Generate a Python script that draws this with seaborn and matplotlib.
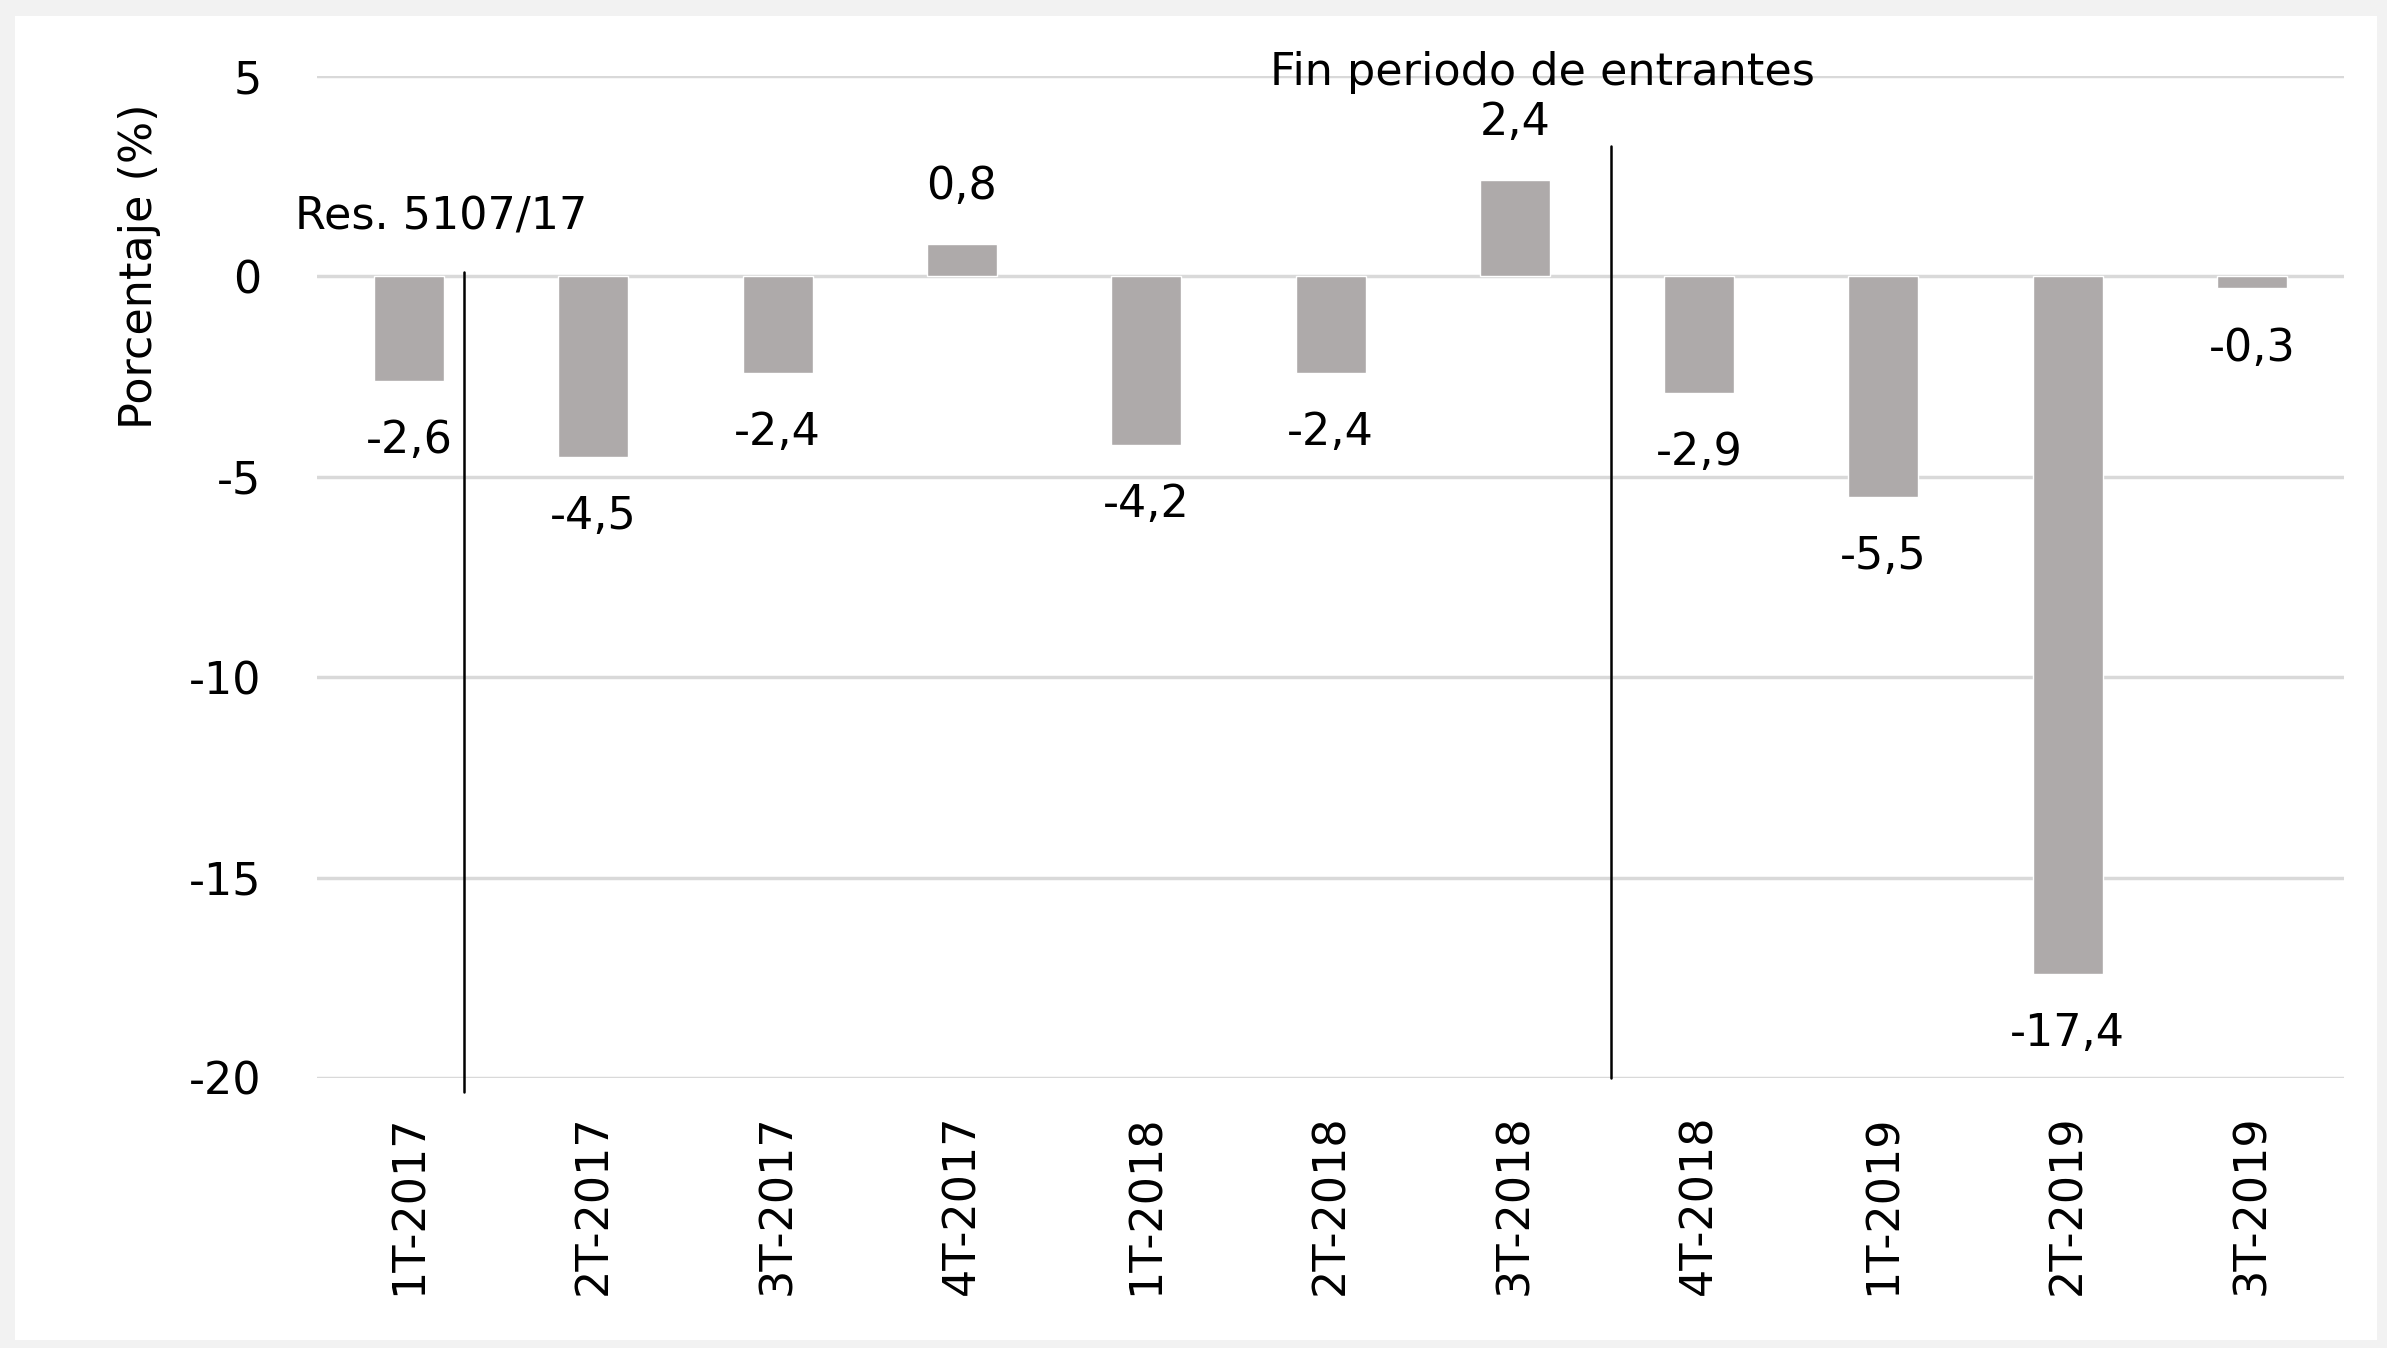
import matplotlib
matplotlib.use("Agg")
import matplotlib.pyplot as plt
import seaborn as sns
import pandas as pd
from matplotlib.patches import Rectangle

# Data
trimestres = ["1T-2017", "2T-2017", "3T-2017", "4T-2017", "1T-2018", "2T-2018",
              "3T-2018", "4T-2018", "1T-2019", "2T-2019", "3T-2019"]
variacion = [-2.6, -4.5, -2.4, 0.8, -4.2, -2.4, 2.4, -2.9, -5.5, -17.4, -0.3]
y_ticks = [5, 0, -5, -10, -15, -20]

df = pd.DataFrame({"trimestre": trimestres, "variacion": variacion})

sns.set_style("white")
plt.rcParams["font.family"] = ["DejaVu Sans"]
plt.rcParams["text.color"] = "black"
plt.rcParams["axes.labelcolor"] = "black"
plt.rcParams["xtick.color"] = "black"
plt.rcParams["ytick.color"] = "black"
FS = 32

fig = plt.figure(figsize=(23.87, 13.48), dpi=100, facecolor="#f2f2f2")
# white inner panel like the Excel chart area (behind the axes)
fig.patches.append(Rectangle((0.0063, 0.006), 0.9895, 0.982, transform=fig.transFigure,
                             facecolor="white", edgecolor="none", zorder=-10))
ax = fig.add_axes([0.1328, 0.2003, 0.8492, 0.7433])
ax.set_facecolor("none")
ax.set_zorder(1)

sns.barplot(data=df, x="trimestre", y="variacion", color="#aeaaaa", saturation=1,
            width=0.38, ax=ax, zorder=3)

ax.set_ylim(-20, 5)
ax.set_xlim(-0.5, len(trimestres) - 0.5)
ax.set_yticks(y_ticks)
ax.set_yticklabels([str(t) for t in y_ticks], fontsize=FS)
ax.yaxis.grid(True, color="#d9d9d9", linewidth=2.5, zorder=0)
ax.set_axisbelow(True)
for s in ax.spines.values():
    s.set_visible(False)
ax.tick_params(axis="y", length=0, pad=40)
ax.tick_params(axis="x", length=0, pad=26, labelsize=FS, rotation=90)

ax.set_xlabel("")
ax.set_ylabel("Porcentaje (%)", fontsize=FS)
ax.yaxis.set_label_coords(-0.077, 0.81)

# value labels (comma as decimal separator)
for i, v in enumerate(variacion):
    off = 1.45 if v > 0 else -1.5
    ax.text(i, v + off, f"{v:.1f}".replace(".", ","), ha="center", va="center",
            fontsize=FS, zorder=5)

# event markers
ax.plot([0.30, 0.30], [0.1, -20.35], color="black", linewidth=1.8, clip_on=False, zorder=4)
ax.text(-0.62, 1.48, "Res. 5107/17", ha="left", va="center", fontsize=FS)
ax.plot([6.52, 6.52], [3.26, -20], color="black", linewidth=1.8, clip_on=False, zorder=4)
ax.text(6.15, 5.09, "Fin periodo de entrantes", ha="center", va="center", fontsize=FS, zorder=5)

fig.savefig("out.png", dpi=100, facecolor=fig.get_facecolor())
